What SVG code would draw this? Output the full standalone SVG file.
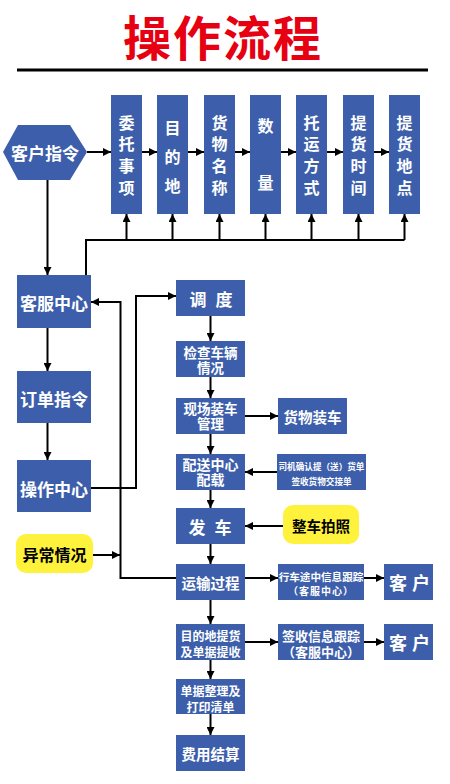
<svg xmlns="http://www.w3.org/2000/svg" width="450" height="784" viewBox="0 0 450 784">
<defs>
<marker id="ah" viewBox="0 0 10 10" refX="10" refY="5" markerWidth="8" markerHeight="8" markerUnits="userSpaceOnUse" orient="auto">
<path d="M0,0 L10,5 L0,10 z" fill="#000"/>
</marker>
</defs>
<style>
.b{fill:#3d5fab}
.y{fill:#fff23c}
text{font-family:"Noto Sans CJK SC","Noto Sans",sans-serif;font-weight:bold;text-anchor:middle;dominant-baseline:central}
.w{fill:#fff}
.k{fill:#000}
.c{fill:none;stroke:#000;stroke-width:2}
.a{fill:none;stroke:#000;stroke-width:2;marker-end:url(#ah)}
</style>
<rect width="450" height="784" fill="#fff"/>
<g id="title">
<text x="223" y="35" font-size="48" fill="#e60012" letter-spacing="2">操作流程</text>
<rect x="17" y="68.5" width="411" height="3" fill="#000"/>
</g>
<g id="connectors">
<line class="a" x1="87" y1="152" x2="111" y2="152"/>
<line class="a" x1="142" y1="152" x2="157" y2="152"/>
<line class="a" x1="188" y1="152" x2="204" y2="152"/>
<line class="a" x1="235" y1="152" x2="250" y2="152"/>
<line class="a" x1="281" y1="152" x2="296" y2="152"/>
<line class="a" x1="327" y1="152" x2="343" y2="152"/>
<line class="a" x1="374" y1="152" x2="389" y2="152"/>
<line class="a" x1="47.5" y1="180" x2="47.5" y2="275"/>
<path class="c" d="M86,275 V240 H404.5"/>
<line class="a" x1="126.5" y1="240" x2="126.5" y2="214"/>
<line class="a" x1="172.5" y1="240" x2="172.5" y2="214"/>
<line class="a" x1="219.5" y1="240" x2="219.5" y2="214"/>
<line class="a" x1="265.5" y1="240" x2="265.5" y2="214"/>
<line class="a" x1="311.5" y1="240" x2="311.5" y2="214"/>
<line class="a" x1="358.5" y1="240" x2="358.5" y2="214"/>
<line class="a" x1="404.5" y1="240" x2="404.5" y2="214"/>
<line class="a" x1="47.5" y1="328" x2="47.5" y2="371"/>
<line class="a" x1="47.5" y1="423" x2="47.5" y2="460"/>
<path class="a" d="M91,488 H136 V296 H176"/>
<path class="a" d="M176,578 H120.5 V302 H91"/>
<line class="a" x1="93" y1="555" x2="120" y2="555"/>
<line class="a" x1="210.5" y1="316" x2="210.5" y2="341"/>
<line class="a" x1="210.5" y1="377" x2="210.5" y2="398"/>
<line class="a" x1="210.5" y1="434" x2="210.5" y2="454"/>
<line class="a" x1="210.5" y1="490" x2="210.5" y2="508"/>
<line class="a" x1="210.5" y1="544" x2="210.5" y2="564"/>
<line class="a" x1="210.5" y1="600" x2="210.5" y2="624"/>
<line class="a" x1="210.5" y1="660" x2="210.5" y2="679"/>
<line class="a" x1="210.5" y1="714" x2="210.5" y2="735"/>
<line class="a" x1="245" y1="416" x2="278" y2="416"/>
<line class="a" x1="277" y1="472" x2="245" y2="472"/>
<line class="a" x1="283" y1="526" x2="245" y2="526"/>
<line class="a" x1="245" y1="578" x2="278" y2="578"/>
<line class="a" x1="364" y1="578" x2="384" y2="578"/>
<line class="a" x1="245" y1="642" x2="278" y2="642"/>
<line class="a" x1="364" y1="642" x2="384" y2="642"/>
</g>
<g id="n-kehuzhiling">
<polygon class="b" points="3,152 18,125 70,125 87,152 70,180 18,180"/>
<text class="w" x="45" y="152" font-size="17">客户指令</text>
</g>
<g id="n-weituo">
<rect class="b" x="111" y="95" width="31" height="119"/>
<text class="w" font-size="16"><tspan x="126.5" y="122">委</tspan><tspan x="126.5" y="143">托</tspan><tspan x="126.5" y="165">事</tspan><tspan x="126.5" y="187">项</tspan></text>
</g>
<g id="n-mudidi">
<rect class="b" x="157" y="95" width="31" height="119"/>
<text class="w" font-size="16"><tspan x="172.5" y="127">目</tspan><tspan x="172.5" y="156">的</tspan><tspan x="172.5" y="185">地</tspan></text>
</g>
<g id="n-huowu">
<rect class="b" x="204" y="95" width="31" height="119"/>
<text class="w" font-size="16"><tspan x="219.5" y="122">货</tspan><tspan x="219.5" y="143">物</tspan><tspan x="219.5" y="165">名</tspan><tspan x="219.5" y="187">称</tspan></text>
</g>
<g id="n-shuliang">
<rect class="b" x="250" y="95" width="31" height="119"/>
<text class="w" font-size="16"><tspan x="265.5" y="125">数</tspan><tspan x="265.5" y="182">量</tspan></text>
</g>
<g id="n-tuoyun">
<rect class="b" x="296" y="95" width="31" height="119"/>
<text class="w" font-size="16"><tspan x="311.5" y="122">托</tspan><tspan x="311.5" y="143">运</tspan><tspan x="311.5" y="165">方</tspan><tspan x="311.5" y="187">式</tspan></text>
</g>
<g id="n-tihuoshijian">
<rect class="b" x="343" y="95" width="31" height="119"/>
<text class="w" font-size="16"><tspan x="358.5" y="122">提</tspan><tspan x="358.5" y="143">货</tspan><tspan x="358.5" y="165">时</tspan><tspan x="358.5" y="187">间</tspan></text>
</g>
<g id="n-tihuodidian">
<rect class="b" x="389" y="95" width="31" height="119"/>
<text class="w" font-size="16"><tspan x="404.5" y="122">提</tspan><tspan x="404.5" y="143">货</tspan><tspan x="404.5" y="165">地</tspan><tspan x="404.5" y="187">点</tspan></text>
</g>
<g id="n-kefu">
<rect class="b" x="17" y="275" width="74" height="53"/>
<text class="w" x="54" y="302" font-size="17">客服中心</text>
</g>
<g id="n-dingdan">
<rect class="b" x="17" y="371" width="74" height="52"/>
<text class="w" x="54" y="398" font-size="17">订单指令</text>
</g>
<g id="n-caozuo">
<rect class="b" x="17" y="460" width="74" height="52"/>
<text class="w" x="54" y="488" font-size="17">操作中心</text>
</g>
<g id="n-yichang">
<rect class="y" x="16" y="534" width="77" height="39" rx="10"/>
<text class="k" x="54.5" y="554" font-size="16">异常情况</text>
</g>
<g id="n-diaodu">
<rect class="b" x="176" y="280" width="69" height="36"/>
<text class="w" y="298" font-size="17"><tspan x="198">调</tspan><tspan x="224">度</tspan></text>
</g>
<g id="n-jiancha">
<rect class="b" x="176" y="341" width="69" height="36"/>
<text class="w" font-size="13.5"><tspan x="210.5" y="352">检查车辆</tspan><tspan x="210.5" y="367">情况</tspan></text>
</g>
<g id="n-xianchang">
<rect class="b" x="176" y="398" width="69" height="36"/>
<text class="w" font-size="13.5"><tspan x="210.5" y="408">现场装车</tspan><tspan x="210.5" y="423">管理</tspan></text>
</g>
<g id="n-huowuzhuangche">
<rect class="b" x="278" y="398" width="69" height="36"/>
<text class="w" x="312.5" y="416" font-size="14.5">货物装车</text>
</g>
<g id="n-peisong">
<rect class="b" x="176" y="454" width="69" height="36"/>
<text class="w" font-size="14"><tspan x="210.5" y="464">配送中心</tspan><tspan x="210.5" y="479">配载</tspan></text>
</g>
<g id="n-siji">
<rect class="b" x="277" y="454" width="89" height="36"/>
<text class="w" font-size="8.6"><tspan x="321.5" y="466">司机确认提（送）货单</tspan><tspan x="321.5" y="481">签收货物交接单</tspan></text>
</g>
<g id="n-fache">
<rect class="b" x="176" y="508" width="69" height="36"/>
<text class="w" y="526" font-size="17"><tspan x="197">发</tspan><tspan x="223">车</tspan></text>
</g>
<g id="n-paizhao">
<rect class="y" x="283" y="505" width="76" height="39" rx="10"/>
<text class="k" x="321" y="525" font-size="14.5">整车拍照</text>
</g>
<g id="n-yunshu">
<rect class="b" x="176" y="564" width="69" height="36"/>
<text class="w" x="210.5" y="582" font-size="14.5">运输过程</text>
</g>
<g id="n-xingche">
<rect class="b" x="278" y="564" width="86" height="36"/>
<text class="w"><tspan x="321" y="576" font-size="10.6">行车途中信息跟踪</tspan><tspan x="321" y="590" font-size="10" letter-spacing="1">（客服中心）</tspan></text>
</g>
<g id="n-kehu1">
<rect class="b" x="384" y="564" width="49" height="36"/>
<text class="w" y="582" font-size="18"><tspan x="398">客</tspan><tspan x="421">户</tspan></text>
</g>
<g id="n-mudi">
<rect class="b" x="176" y="624" width="69" height="36"/>
<text class="w" font-size="12"><tspan x="210.5" y="635">目的地提货</tspan><tspan x="210.5" y="651">及单据提收</tspan></text>
</g>
<g id="n-qianshou">
<rect class="b" x="278" y="624" width="86" height="36"/>
<text class="w" font-size="13"><tspan x="321" y="635">签收信息跟踪</tspan><tspan x="321" y="651">（客服中心）</tspan></text>
</g>
<g id="n-kehu2">
<rect class="b" x="384" y="624" width="49" height="36"/>
<text class="w" y="642" font-size="18"><tspan x="398">客</tspan><tspan x="421">户</tspan></text>
</g>
<g id="n-danju">
<rect class="b" x="176" y="679" width="69" height="35"/>
<text class="w" font-size="12"><tspan x="210.5" y="690">单据整理及</tspan><tspan x="210.5" y="706">打印清单</tspan></text>
</g>
<g id="n-feiyong">
<rect class="b" x="176" y="735" width="69" height="36"/>
<text class="w" x="210.5" y="753" font-size="14.5">费用结算</text>
</g>
</svg>
